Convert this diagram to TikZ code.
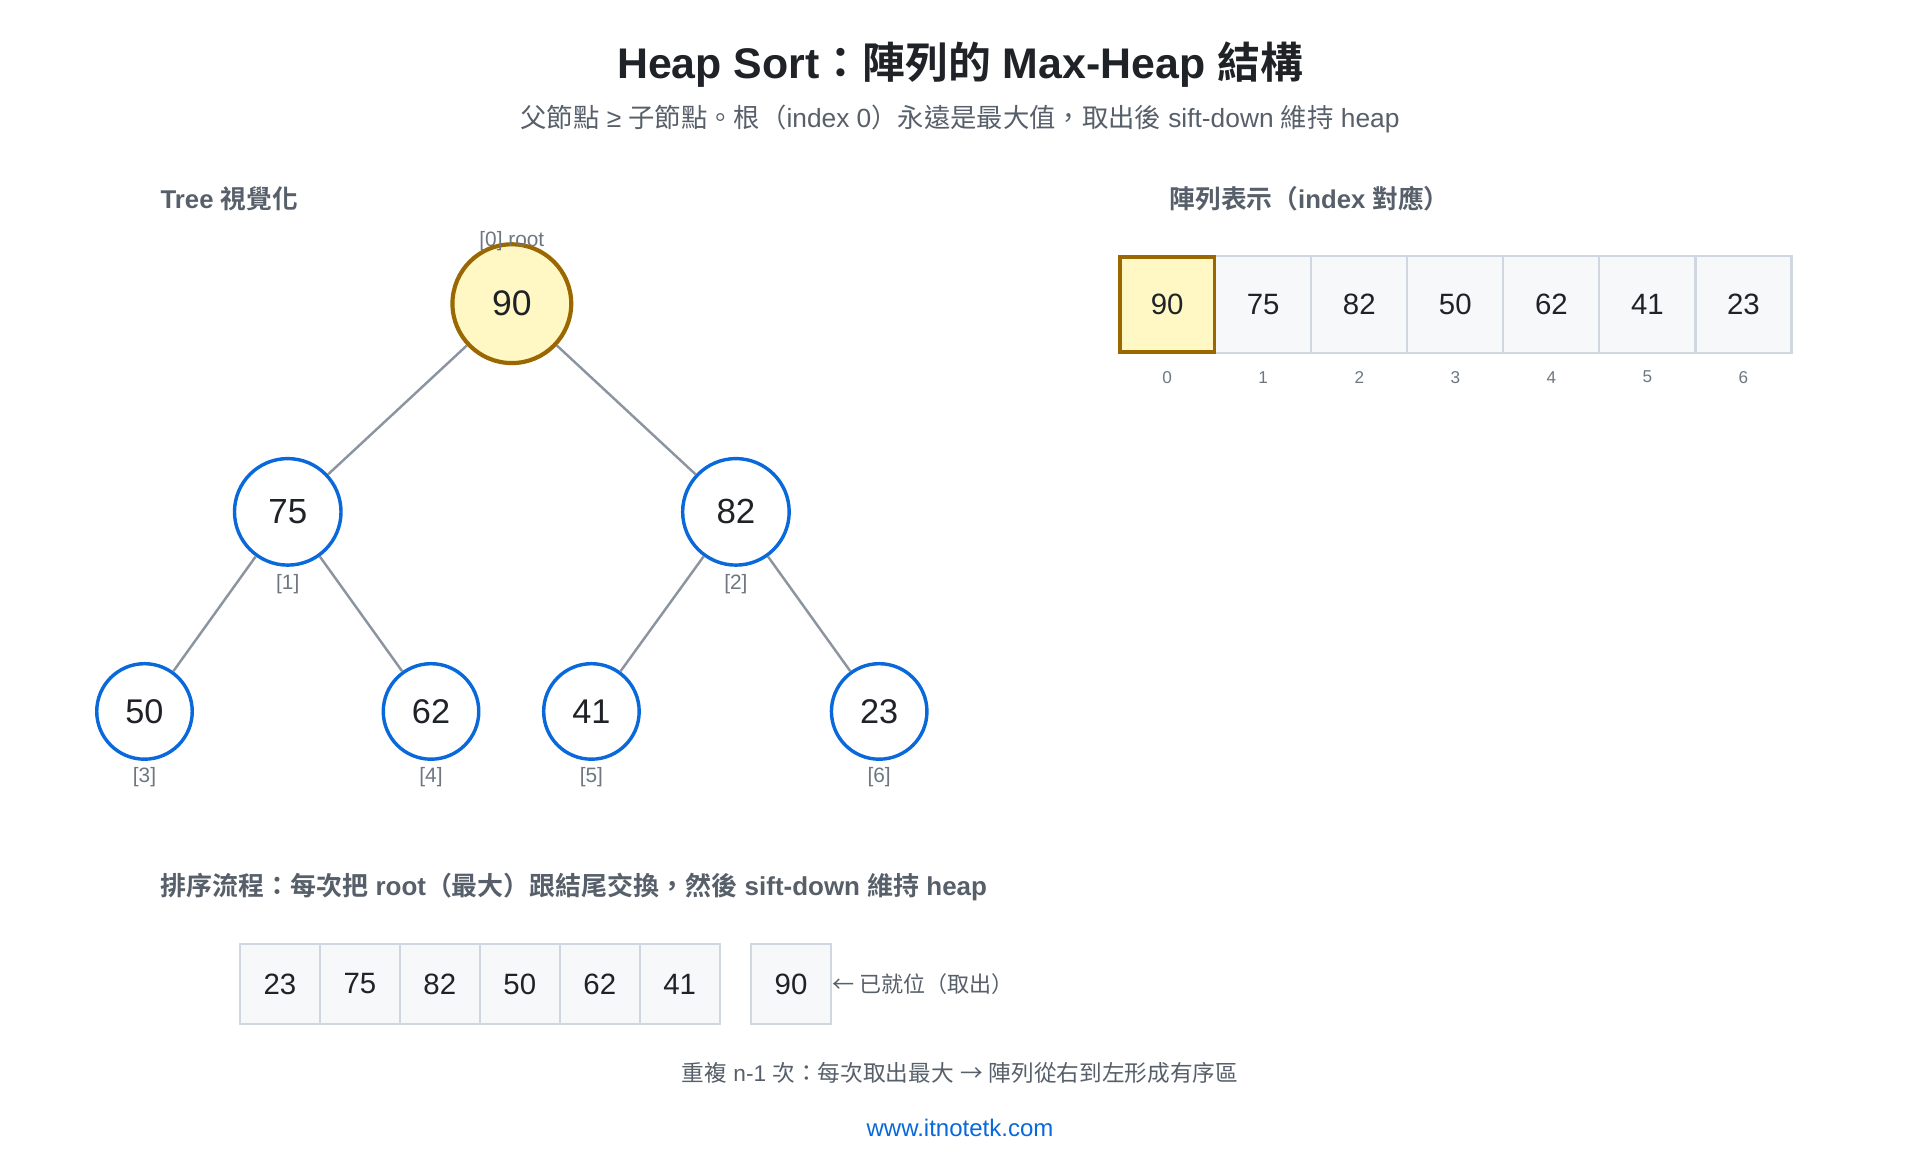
\documentclass[tikz,border=0pt]{standalone}
\usepackage{fontspec}
\setmainfont{Liberation Sans}
\newfontfamily\cj{Noto Sans CJK TC}[BoldFont={Noto Sans CJK TC Bold}]
\newcommand{\C}[1]{{\cj #1}}
\definecolor{txt}{HTML}{1F2328}
\definecolor{muted}{HTML}{57606A}
\definecolor{idx}{HTML}{6E7781}
\definecolor{edgec}{HTML}{8C959F}
\definecolor{blue}{HTML}{0969DA}
\definecolor{brown}{HTML}{9A6700}
\definecolor{yel}{HTML}{FFF8C5}
\definecolor{cellf}{HTML}{F6F8FA}
\definecolor{celld}{HTML}{D0D7DE}
\newcommand{\fs}[1]{\fontsize{#1}{#1}\selectfont}
\tikzset{
  rootnode/.style={circle,draw=brown,line width=3.4pt,fill=yel,minimum size=97pt,inner sep=0pt,text=txt,font=\fs{29}},
  midnode/.style={circle,draw=blue,line width=2.8pt,fill=white,minimum size=87pt,inner sep=0pt,text=txt,font=\fs{28.5}},
  leafnode/.style={circle,draw=blue,line width=2.8pt,fill=white,minimum size=78pt,inner sep=0pt,text=txt,font=\fs{28}},
  tedge/.style={draw=edgec,line width=2pt},
  idxlab/.style={text=idx,font=\fs{17},inner sep=0pt},
  arridx/.style={text=idx,font=\fs{14},inner sep=0pt},
  cell/.style={draw=celld,line width=1.8pt,fill=cellf,minimum width=78.4pt,minimum height=79pt,inner sep=0pt,text=txt,font=\fs{24}},
  hicell/.style={draw=brown,line width=3pt,fill=yel,minimum width=77pt,minimum height=77.5pt,inner sep=0pt,text=txt,font=\fs{24}},
  scell/.style={draw=celld,line width=1.8pt,fill=cellf,minimum width=65.3pt,minimum height=65pt,inner sep=0pt,text=txt,font=\fs{24}},
  section/.style={text=muted,font=\bfseries\fs{21},anchor=west,inner sep=0pt},
}
\begin{document}
\begin{tikzpicture}[x=1pt,y=-1pt]
\useasboundingbox[fill=white] (0,0) rectangle (1568,940.8);
% titles
\node[text=txt,font=\bfseries\fs{35}] (title) at (784,53) {Heap Sort\C{：陣列的} Max-Heap \C{結構}};
\node[text=muted,font=\fs{21.5}] (sub) at (784,97) {\C{父節點} ≥ \C{子節點。根（}index 0\C{）永遠是最大值，取出後} sift-down \C{維持} heap};
\node[section] (treehdr) at (131,162) {Tree \C{視覺化}};
\node[section] (arrhdr) at (955,162) {\C{陣列表示（}index \C{對應）}};
% tree nodes
\node[rootnode] (n0) at (418,248) {90};
\node[midnode] (n1) at (235,418) {75};
\node[midnode] (n2) at (601,418) {82};
\node[leafnode] (n3) at (118,581) {50};
\node[leafnode] (n4) at (352,581) {62};
\node[leafnode] (n5) at (483,581) {41};
\node[leafnode] (n6) at (718,581) {23};
\draw[tedge] (n0) -- (n1);
\draw[tedge] (n0) -- (n2);
\draw[tedge] (n1) -- (n3);
\draw[tedge] (n1) -- (n4);
\draw[tedge] (n2) -- (n5);
\draw[tedge] (n2) -- (n6);
\node[idxlab] (l0) at (418,197) {[0] root};
\node[idxlab] (l1) at (235,477) {[1]};
\node[idxlab] (l2) at (601,477) {[2]};
\node[idxlab] (l3) at (118,635) {[3]};
\node[idxlab] (l4) at (352,635) {[4]};
\node[idxlab] (l5) at (483,635) {[5]};
\node[idxlab] (l6) at (718,635) {[6]};
% top array
\foreach \v [count=\i from 0] in {90,75,82,50,62,41,23}{
  \node[cell] (a\i) at ({953.2+78.43*\i},248.5) {\v};
  \node[arridx] (i\i) at ({953.2+78.43*\i},308) {\i};
}
\node[hicell] (a0h) at (953.2,248.5) {90};
% sort process
\node[section,font=\bfseries\fs{21.2}] (sorthdr) at (131,724) {\C{排序流程：每次把} root\C{（最大）跟結尾交換，然後} sift-down \C{維持} heap};
\foreach \v [count=\i from 0] in {23,75,82,50,62,41}{
  \node[scell] (b\i) at ({228.6+65.3*\i},803.5) {\v};
}
\node[scell] (bx) at (646,803.5) {90};
\node[text=muted,font=\fs{18},anchor=west,inner sep=0pt] (done) at (bx.east) {\C{← 已就位（取出）}};
\node[text=muted,font=\fs{18.5}] (note) at (784,876) {\C{重複} n-1 \C{次：每次取出最大} \C{→} \C{陣列從右到左形成有序區}};
\node[text=blue,font=\fs{19.6}] (url) at (784,921) {www.itnotetk.com};
\end{tikzpicture}
\end{document}
